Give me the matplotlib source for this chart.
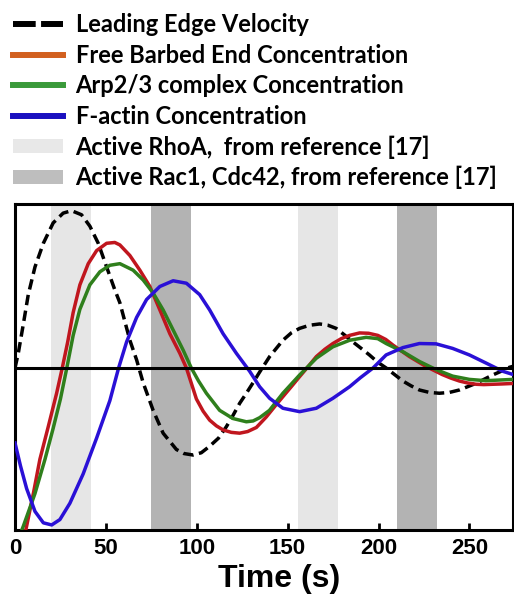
import matplotlib.pyplot as plt
from matplotlib.lines import Line2D
from matplotlib.patches import Patch

# Leading edge velocity (dashed)
t_vel = [0, 1.8, 4.6, 7.3, 11, 15.6, 21, 26.5, 31.1, 36.6, 41.2, 45.8, 50.4, 54.9, 57.7, 63.2, 66.9,
         70.5, 76, 81.5, 88.8, 93, 98, 102.5, 107.1, 112, 116.3, 120, 123.6, 127, 131, 134.6, 140.1,
         147.4, 152, 156.6, 162, 167.6, 172, 176.7, 181, 185.9, 190.5, 195, 199.6, 204.2, 208.8,
         213.4, 218, 222.5, 228, 233.5, 239, 244.5, 249, 253.7, 258, 262.8, 267.5, 272, 274]
v_vel = [0.0, 0.09, 0.27, 0.45, 0.62, 0.765, 0.89, 0.95, 0.965, 0.94, 0.87, 0.765, 0.62, 0.48, 0.40,
         0.17, 0.05, -0.09, -0.26, -0.40, -0.50, -0.525, -0.534, -0.52, -0.48, -0.43, -0.36, -0.29,
         -0.217, -0.16, -0.09, -0.025, 0.07, 0.17, 0.215, 0.243, 0.262, 0.27, 0.263, 0.243, 0.205,
         0.16, 0.12, 0.08, 0.035, 0.0, -0.04, -0.08, -0.11, -0.135, -0.15, -0.155, -0.15, -0.135,
         -0.115, -0.094, -0.07, -0.043, -0.02, 0.004, 0.01]

# Free barbed end
t_fbe = [0, 6.4, 10.1, 13.7, 18.3, 22.9, 26, 29, 32, 35.7, 40.3, 44.9, 50.4, 54.9, 57.7, 63.2, 68.7,
         74.2, 79.7, 85.2, 90.7, 94.3, 99.8, 103.5, 107.1, 110.8, 114.5, 119, 123.6, 128, 132.8,
         138.3, 143, 147.4, 152, 156.6, 161, 165.8, 170.5, 174.9, 179.5, 184.1, 189.6, 194.5, 199.6,
         204, 208, 212.5, 217, 221.5, 226, 230.5, 235, 239.8, 244.5, 249, 253.7, 258, 262.8, 268, 274]
v_fbe = [-1.3, -0.97, -0.77, -0.56, -0.36, -0.155, 0.0, 0.16, 0.34, 0.51, 0.64, 0.72, 0.765, 0.77,
         0.755, 0.69, 0.60, 0.50, 0.356, 0.21, 0.09, 0.0, -0.19, -0.265, -0.32, -0.355, -0.38, -0.395,
         -0.40, -0.39, -0.365, -0.30, -0.235, -0.176, -0.115, -0.053, 0.005, 0.07, 0.115, 0.15, 0.18,
         0.20, 0.215, 0.213, 0.20, 0.175, 0.14, 0.105, 0.07, 0.04, 0.01, -0.015, -0.04, -0.062, -0.08,
         -0.092, -0.10, -0.102, -0.10, -0.098, -0.095]

# Arp2/3 complex
t_arp = [0, 4.6, 11, 16.5, 21, 25, 28.5, 32, 35.7, 41.2, 46.7, 52.2, 57.7, 65, 70.5, 76, 81.5, 87,
         92.5, 97, 101, 105.3, 112.6, 119.9, 127.3, 131, 134.6, 140, 147.4, 156.6, 165.8, 174.9,
         184.1, 193.2, 199.6, 204.2, 213.4, 222.5, 231.7, 240.8, 250, 259, 274]
v_arp = [-1.1, -0.97, -0.77, -0.56, -0.37, -0.19, 0.0, 0.2, 0.36, 0.51, 0.59, 0.63, 0.64, 0.60, 0.54,
         0.46, 0.356, 0.233, 0.11, 0.0, -0.08, -0.155, -0.26, -0.31, -0.33, -0.325, -0.305, -0.26,
         -0.155, -0.043, 0.06, 0.13, 0.17, 0.188, 0.18, 0.15, 0.10, 0.04, -0.01, -0.05, -0.07,
         -0.078, -0.07]

# F-actin
t_fac = [0, 3, 6.4, 11, 15.6, 20.2, 24.7, 30.2, 37.5, 44.9, 52.2, 57, 61.4, 66.9, 72.4, 79.7, 87,
         94.3, 101.6, 107.1, 114.5, 121.8, 129.1, 134.6, 140.1, 147.4, 156.6, 165.8, 174.9, 184.1,
         190, 197, 204.2, 213.4, 222.5, 231.7, 240.8, 250, 259.2, 268.3, 274]
v_fac = [-0.46, -0.6, -0.74, -0.88, -0.95, -0.963, -0.93, -0.83, -0.65, -0.43, -0.2, 0.0, 0.16, 0.31,
         0.42, 0.50, 0.535, 0.52, 0.45, 0.356, 0.21, 0.09, -0.02, -0.115, -0.186, -0.247, -0.268,
         -0.247, -0.186, -0.115, -0.06, 0.0, 0.08, 0.125, 0.15, 0.148, 0.12, 0.08, 0.03, -0.02, -0.04]

# signalling windows from reference [17]
rhoa_win = [(20, 42), (155.5, 177.5)]
rac_win = [(75, 97), (210, 232)]

xticks = [0, 50, 100, 150, 200, 250]

fig = plt.figure(figsize=(5.14, 6.0), dpi=100)
ax = fig.add_axes([15/514, 70/600, 498/514, 326/600])

for a, b in rhoa_win:
    ax.axvspan(a, b, color='#e6e6e6', lw=0, zorder=0)
for a, b in rac_win:
    ax.axvspan(a, b, color='#b3b3b3', lw=0, zorder=0)

ax.plot(t_vel, v_vel, color='black', lw=2.5, ls=(0, (3.0, 1.6)), zorder=2)
ax.plot(t_fbe, v_fbe, color='#c0161e', lw=2.5, zorder=3)
ax.plot(t_arp, v_arp, color='#2f7f1c', lw=2.5, zorder=4)
ax.plot(t_fac, v_fac, color='#2a10d6', lw=2.5, zorder=5)
ax.axhline(0, color='black', lw=2.2, zorder=6)

ax.set_xlim(0, 274)
ax.set_ylim(-0.994, 1.006)
ax.set_yticks([])
ax.set_xticks(xticks)
ax.set_xticklabels([str(x) for x in xticks], fontsize=16, fontweight='bold', family='Liberation Sans')
ax.tick_params(axis='x', direction='in', length=5, width=2, pad=6)
for s in ax.spines.values():
    s.set_linewidth(2.2)
ax.set_xlabel('Time (s)', fontsize=23, fontweight='bold', family='Liberation Sans', labelpad=2)
ax.xaxis.set_label_coords(0.53, -0.105)

handles = [
    Line2D([], [], color='black', lw=4.3, ls=(0, (3.8, 0.9))),
    Line2D([], [], color='#d2601f', lw=4.3),
    Line2D([], [], color='#3a9a3a', lw=4.3),
    Line2D([], [], color='#1a10c0', lw=4.3),
    Patch(facecolor='#e8e8e8', edgecolor='none'),
    Patch(facecolor='#bebebe', edgecolor='none'),
]
labels = ['Leading Edge Velocity', 'Free Barbed End Concentration', 'Arp2/3 complex Concentration',
          'F-actin Concentration', 'Active RhoA,  from reference [17]',
          'Active Rac1, Cdc42, from reference [17]']
fig.legend(handles, labels, loc='upper left', bbox_to_anchor=(0.0, 1.0), frameon=False,
           prop={'family': 'Lato', 'weight': 'bold', 'size': 17}, handlelength=2.1,
           handletextpad=0.55, labelspacing=0.32, borderaxespad=0.15, handleheight=0.55)

fig.savefig('out.png', dpi=100)
